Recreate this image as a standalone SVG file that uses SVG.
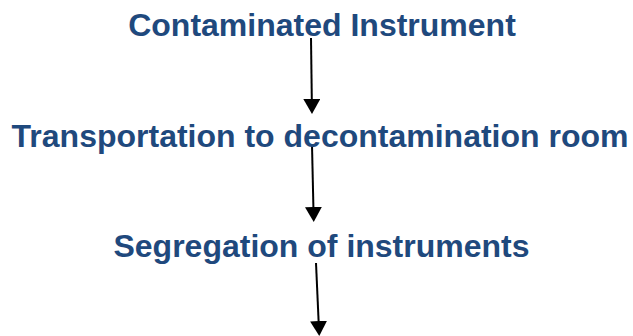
<svg xmlns="http://www.w3.org/2000/svg" width="633" height="336" viewBox="0 0 633 336">
  <style>
    .lbl { font-family: "Liberation Sans", Arial, sans-serif; font-weight: bold; font-size: 32px; fill: #1F497D; text-anchor: middle; }
    .conn { stroke: #000000; stroke-width: 2; fill: none; }
  </style>
  <defs>
    <marker id="ah" viewBox="0 0 15 17" refX="0" refY="8.5" markerWidth="15" markerHeight="17" markerUnits="userSpaceOnUse" orient="auto">
      <path d="M0,0 L15,8.5 L0,17 Z" fill="#000000"/>
    </marker>
  </defs>
  <rect width="633" height="336" fill="#ffffff"/>
  <g id="connectors">
    <line class="conn" x1="311" y1="38" x2="311.8" y2="99" marker-end="url(#ah)"/>
    <line class="conn" x1="312" y1="145" x2="313.4" y2="207" marker-end="url(#ah)"/>
    <line class="conn" x1="316" y1="263" x2="318.6" y2="321" marker-end="url(#ah)"/>
  </g>
  <g id="node-contaminated">
    <text class="lbl" x="322" y="36">Contaminated Instrument</text>
  </g>
  <g id="node-transportation">
    <text class="lbl" x="320" y="147">Transportation to decontamination room</text>
  </g>
  <g id="node-segregation">
    <text class="lbl" x="321.5" y="257">Segregation of instruments</text>
  </g>
</svg>
